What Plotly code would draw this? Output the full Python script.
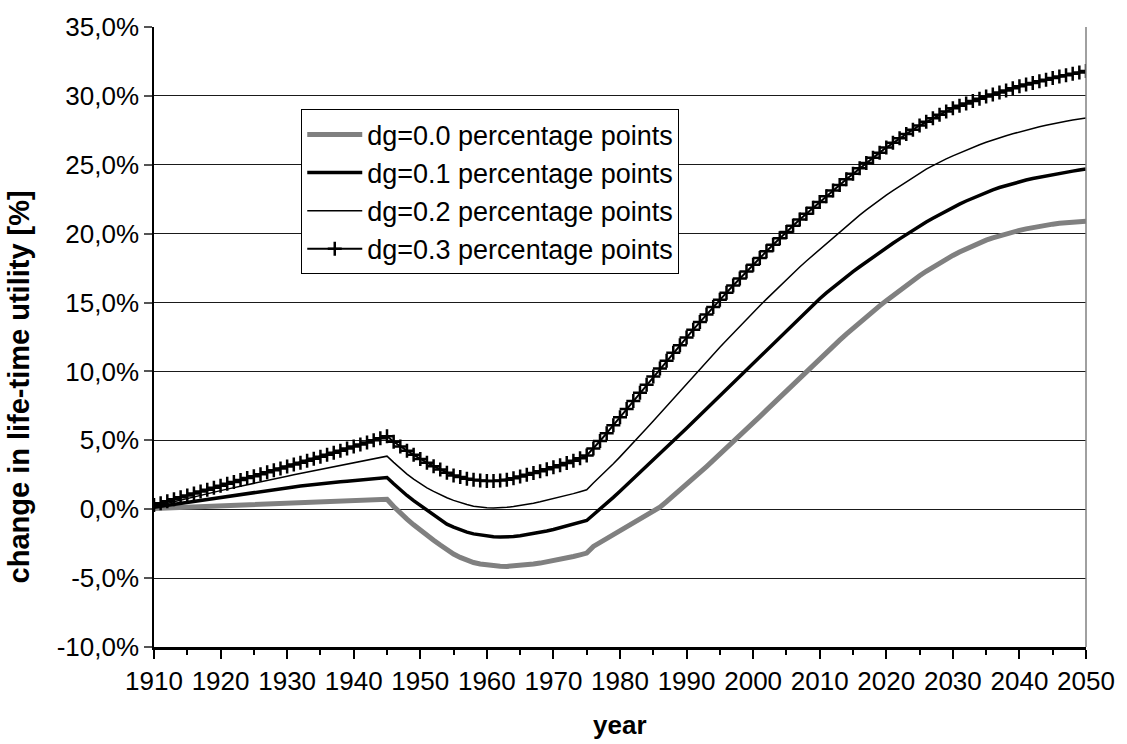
import plotly.graph_objects as go

years = list(range(1910, 2051))

series_names = [
    "dg=0.0 percentage points",
    "dg=0.1 percentage points",
    "dg=0.2 percentage points",
    "dg=0.3 percentage points",
]

dg00 = [
    0.05, 0.07, 0.09, 0.11, 0.13, 0.15, 0.16, 0.18, 0.20, 0.22,
    0.24, 0.26, 0.28, 0.30, 0.32, 0.34, 0.36, 0.38, 0.39, 0.41,
    0.43, 0.45, 0.47, 0.49, 0.51, 0.53, 0.55, 0.57, 0.59, 0.61,
    0.62, 0.64, 0.66, 0.68, 0.70, 0.72,
    0.20, -0.30, -0.72, -1.13, -1.53, -1.90, -2.25, -2.60, -2.95, -3.25,
    -3.50, -3.70, -3.87, -3.98, -4.06, -4.11, -4.14, -4.15, -4.13, -4.09,
    -4.04, -3.98, -3.91, -3.83, -3.74, -3.64, -3.54, -3.43, -3.31, -3.18,
    -2.70, -2.42, -2.15, -1.88, -1.60, -1.33, -1.05, -0.78, -0.50, -0.20,
    0.15, 0.55, 0.96, 1.38, 1.80, 2.23, 2.66, 3.10, 3.54, 3.98,
    4.43, 4.88, 5.34, 5.80, 6.26, 6.72, 7.19, 7.66, 8.13, 8.60,
    9.06, 9.52, 9.98, 10.44, 10.90, 11.36, 11.82, 12.27, 12.71, 13.14,
    13.56, 13.97, 14.37, 14.76, 15.14, 15.52, 15.90, 16.26, 16.61, 16.95,
    17.27, 17.58, 17.87, 18.15, 18.42, 18.67, 18.91, 19.13, 19.34, 19.53,
    19.70, 19.85, 19.99, 20.12, 20.24, 20.35, 20.45, 20.54, 20.62, 20.69,
    20.75, 20.80, 20.84, 20.87, 20.90,
]

dg01 = [
    0.15, 0.22, 0.30, 0.37, 0.45, 0.52, 0.60, 0.67, 0.75, 0.82,
    0.89, 0.96, 1.04, 1.11, 1.18, 1.25, 1.31, 1.38, 1.44, 1.50,
    1.56, 1.62, 1.68, 1.74, 1.79, 1.85, 1.90, 1.94, 1.99, 2.03,
    2.08, 2.12, 2.17, 2.21, 2.26, 2.30,
    1.85, 1.40, 1.00, 0.62, 0.27, -0.10, -0.45, -0.80, -1.08, -1.30,
    -1.50, -1.66, -1.79, -1.88, -1.95, -2.00, -2.02, -2.02, -1.98, -1.92,
    -1.85, -1.77, -1.68, -1.58, -1.47, -1.35, -1.23, -1.10, -0.96, -0.82,
    -0.40, 0.00, 0.42, 0.86, 1.30, 1.75, 2.20, 2.65, 3.10, 3.56,
    4.02, 4.48, 4.94, 5.41, 5.88, 6.35, 6.82, 7.29, 7.76, 8.23,
    8.70, 9.17, 9.64, 10.11, 10.58, 11.06, 11.54, 12.02, 12.50, 12.98,
    13.45, 13.92, 14.38, 14.84, 15.28, 15.70, 16.10, 16.49, 16.87, 17.24,
    17.60, 17.95, 18.30, 18.64, 18.98, 19.30, 19.62, 19.94, 20.25, 20.55,
    20.84, 21.12, 21.39, 21.65, 21.90, 22.14, 22.37, 22.59, 22.80, 23.00,
    23.18, 23.35, 23.50, 23.64, 23.77, 23.89, 24.00, 24.10, 24.19, 24.28,
    24.37, 24.46, 24.54, 24.62, 24.70,
]

dg02 = [
    0.20, 0.32, 0.44, 0.56, 0.68, 0.80, 0.91, 1.02, 1.13, 1.24,
    1.35, 1.46, 1.57, 1.68, 1.79, 1.90, 2.00, 2.10, 2.20, 2.30,
    2.40, 2.50, 2.60, 2.70, 2.80, 2.90, 3.00, 3.10, 3.20, 3.30,
    3.40, 3.49, 3.58, 3.67, 3.76, 3.85,
    3.40, 2.95, 2.55, 2.18, 1.84, 1.55, 1.30, 1.05, 0.83, 0.64,
    0.48, 0.34, 0.22, 0.14, 0.10, 0.08, 0.10, 0.14, 0.20, 0.27,
    0.35, 0.44, 0.54, 0.65, 0.76, 0.88, 1.00, 1.13, 1.27, 1.41,
    1.90, 2.35, 2.82, 3.30, 3.80, 4.30, 4.80, 5.33, 5.87, 6.41,
    6.95, 7.50, 8.04, 8.58, 9.12, 9.66, 10.20, 10.72, 11.24, 11.76,
    12.27, 12.78, 13.28, 13.78, 14.28, 14.77, 15.25, 15.73, 16.20, 16.67,
    17.13, 17.58, 18.02, 18.44, 18.85, 19.28, 19.70, 20.12, 20.54, 20.95,
    21.34, 21.72, 22.09, 22.45, 22.80, 23.13, 23.45, 23.78, 24.09, 24.40,
    24.68, 24.94, 25.20, 25.43, 25.65, 25.86, 26.06, 26.26, 26.45, 26.63,
    26.80, 26.96, 27.11, 27.25, 27.39, 27.52, 27.64, 27.76, 27.87, 27.98,
    28.07, 28.16, 28.25, 28.33, 28.40,
]

dg03 = [
    0.30, 0.44, 0.58, 0.72, 0.86, 1.00, 1.14, 1.28, 1.42, 1.56,
    1.70, 1.84, 1.98, 2.12, 2.26, 2.40, 2.54, 2.68, 2.82, 2.96,
    3.10, 3.24, 3.38, 3.52, 3.66, 3.80, 3.95, 4.10, 4.25, 4.40,
    4.55, 4.70, 4.85, 5.00, 5.15, 5.30,
    4.90, 4.55, 4.25, 3.95, 3.65, 3.38, 3.12, 2.88, 2.65, 2.45,
    2.33, 2.22, 2.14, 2.08, 2.05, 2.05, 2.08, 2.14, 2.25, 2.38,
    2.50, 2.62, 2.75, 2.90, 3.05, 3.20, 3.35, 3.52, 3.70, 3.90,
    4.40, 4.95, 5.52, 6.10, 6.68, 7.27, 7.86, 8.45, 9.04, 9.63,
    10.21, 10.78, 11.35, 11.91, 12.47, 13.03, 13.58, 14.13, 14.67, 15.20,
    15.72, 16.24, 16.75, 17.25, 17.75, 18.24, 18.72, 19.20, 19.67, 20.13,
    20.58, 21.02, 21.45, 21.88, 22.30, 22.72, 23.13, 23.54, 23.95, 24.35,
    24.74, 25.13, 25.51, 25.88, 26.25, 26.59, 26.92, 27.24, 27.55, 27.85,
    28.12, 28.38, 28.63, 28.87, 29.10, 29.28, 29.45, 29.62, 29.79, 29.95,
    30.10, 30.25, 30.40, 30.55, 30.70, 30.82, 30.94, 31.06, 31.18, 31.30,
    31.40, 31.50, 31.60, 31.70, 31.80,
]

x_tick_vals = list(range(1910, 2051, 10))
x_tick_text = [str(v) for v in x_tick_vals]
y_tick_vals = [-10, -5, 0, 5, 10, 15, 20, 25, 30, 35]
y_tick_text = ["-10,0%", "-5,0%", "0,0%", "5,0%", "10,0%", "15,0%",
               "20,0%", "25,0%", "30,0%", "35,0%"]

FONT = "Liberation Sans, Arial, sans-serif"

fig = go.Figure()
fig.add_trace(go.Scatter(x=years, y=dg00, name=series_names[0], mode="lines",
                         line=dict(color="#808080", width=5)))
fig.add_trace(go.Scatter(x=years, y=dg01, name=series_names[1], mode="lines",
                         line=dict(color="#000000", width=3.5)))
fig.add_trace(go.Scatter(x=years, y=dg02, name=series_names[2], mode="lines",
                         line=dict(color="#000000", width=1.5)))
fig.add_trace(go.Scatter(x=years, y=dg03, name=series_names[3], mode="lines+markers",
                         line=dict(color="#000000", width=2),
                         marker=dict(symbol="cross-thin", size=10, color="#000000",
                                     line=dict(color="#000000", width=2.5))))

fig.update_layout(
    width=1127, height=744,
    margin=dict(l=154, r=31, t=25, b=97),
    paper_bgcolor="white", plot_bgcolor="white",
    font=dict(family=FONT, size=26, color="black"),
    showlegend=True,
    legend=dict(x=0.158, y=0.867, xanchor="left", yanchor="top",
                bgcolor="white", bordercolor="black", borderwidth=1,
                font=dict(family=FONT, size=27, color="black"),
                itemwidth=55, tracegroupgap=0),
    xaxis=dict(range=[1910, 2050], tickmode="array", tickvals=x_tick_vals,
               ticktext=x_tick_text, ticks="outside", ticklen=9, tickwidth=1.5,
               tickcolor="black", showline=True, linecolor="black", linewidth=2.5,
               showgrid=False, zeroline=False,
               tickfont=dict(family=FONT, size=26),
               minor=dict(tickmode="linear", tick0=1915, dtick=10, ticks="outside",
                          ticklen=5, tickwidth=1.5, tickcolor="black", showgrid=False)),
    yaxis=dict(range=[-10, 35], tickmode="array", tickvals=y_tick_vals,
               ticktext=y_tick_text, ticks="outside", ticklen=8, tickwidth=1.5,
               tickcolor="#555555", showline=True, linecolor="black", linewidth=1.5,
               showgrid=True, gridcolor="#1a1a1a", gridwidth=1, zeroline=False,
               tickfont=dict(family=FONT, size=26)),
    shapes=[dict(type="line", xref="paper", yref="paper", x0=1, x1=1, y0=0, y1=1,
                 line=dict(color="#808080", width=1.5))],
    annotations=[
        dict(text="<b>change in life-time utility [%]</b>", xref="paper", yref="paper",
             x=-0.145, y=0.42, xanchor="center", yanchor="middle", textangle=-90,
             showarrow=False, font=dict(family=FONT, size=29)),
        dict(text="<b>year</b>", xref="paper", yref="paper",
             x=0.5, y=-0.1530, xanchor="center", yanchor="bottom",
             showarrow=False, font=dict(family=FONT, size=26)),
    ],
)

fig.write_html("out.html", config={"displayModeBar": False},
               post_script="document.body.style.margin='0';")
